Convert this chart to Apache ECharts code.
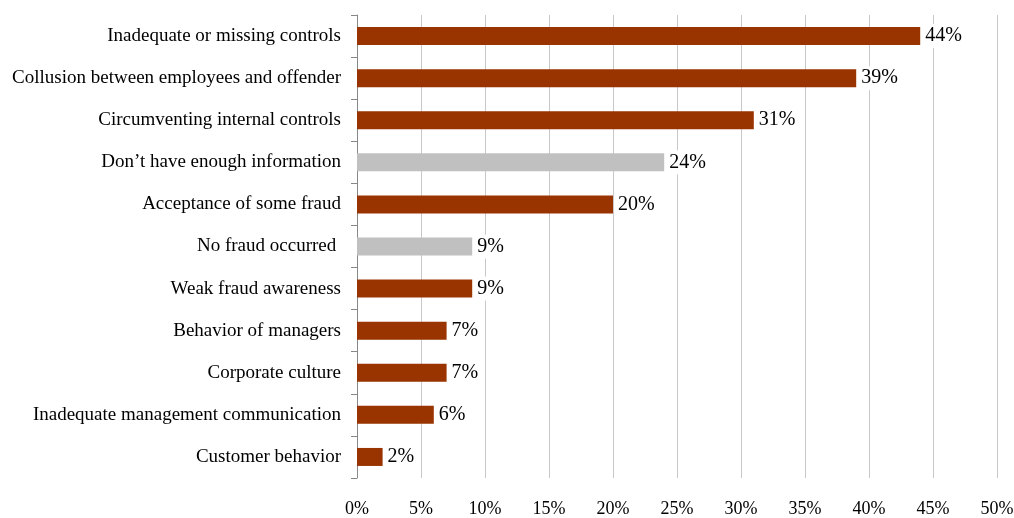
<!DOCTYPE html>
<html>
<head>
<meta charset="utf-8">
<script src="https://cdn.jsdelivr.net/npm/echarts@6/dist/echarts.min.js"></script>
<style>
  html, body { margin: 0; padding: 0; background: #fff; }
  #chart { width: 1014px; height: 518px; }
</style>
</head>
<body>
<div id="chart"></div>
<script>
// Reasons cited for fraud (share of respondents, %), listed top to bottom
const categories = [
  'Inadequate or missing controls',
  'Collusion between employees and offender',
  'Circumventing internal controls',
  'Don\u2019t have enough information',
  'Acceptance of some fraud',
  'No fraud occurred ',
  'Weak fraud awareness',
  'Behavior of managers',
  'Corporate culture',
  'Inadequate management communication',
  'Customer behavior'
];
const values = [44, 39, 31, 24, 20, 9, 9, 7, 7, 6, 2];
// Answers that are not a fraud cause are shown in grey
const neutral = [false, false, false, true, false, true, false, false, false, false, false];
const xTicks = [0, 5, 10, 15, 20, 25, 30, 35, 40, 45, 50];

const causeColor = '#993300';
const neutralColor = '#c0c0c0';
const serif = '"Liberation Serif", "Times New Roman", serif';

const chart = echarts.init(document.getElementById('chart'));
chart.setOption({
  animation: false,
  grid: {
    left: 357, right: 17, top: 15, bottom: 40,
    containLabel: false,
    outerBoundsMode: 'none'
  },
  xAxis: {
    type: 'value',
    min: xTicks[0],
    max: xTicks[xTicks.length - 1],
    interval: xTicks[1] - xTicks[0],
    axisLine: { show: false },
    axisTick: { show: false },
    axisLabel: {
      formatter: v => v + '%',
      fontFamily: serif,
      fontSize: 18,
      color: '#000',
      margin: 22
    },
    splitLine: { lineStyle: { color: '#c8c8c8', width: 1 } }
  },
  yAxis: {
    type: 'category',
    data: categories,
    inverse: true,
    axisLine: { lineStyle: { color: '#888', width: 1 } },
    axisTick: { show: true, length: 6, interval: 0, lineStyle: { color: '#888' } },
    axisLabel: {
      fontFamily: serif,
      fontSize: 19,
      color: '#000',
      margin: 16,
      interval: 0,
      padding: [3, 0, 0, 0]
    }
  },
  series: [{
    type: 'bar',
    data: values.map((v, i) => ({
      value: v,
      itemStyle: { color: neutral[i] ? neutralColor : causeColor }
    })),
    barWidth: 18,
    label: {
      show: true,
      position: 'right',
      distance: 3,
      formatter: p => p.value + '%',
      fontFamily: serif,
      fontSize: 20,
      color: '#000',
      backgroundColor: '#fff',
      padding: [4, 2, 0, 2]
    }
  }]
});
</script>
</body>
</html>
